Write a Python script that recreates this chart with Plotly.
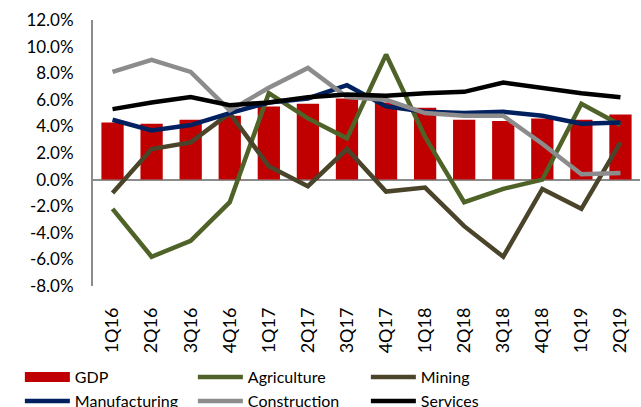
import plotly.graph_objects as go

quarters = ["1Q16", "2Q16", "3Q16", "4Q16", "1Q17", "2Q17", "3Q17", "4Q17",
            "1Q18", "2Q18", "3Q18", "4Q18", "1Q19", "2Q19"]
gdp = [4.3, 4.2, 4.5, 4.8, 5.5, 5.7, 6.1, 5.8, 5.4, 4.5, 4.4, 4.6, 4.5, 4.9]
agriculture = [-2.2, -5.8, -4.6, -1.7, 6.5, 4.6, 3.1, 9.4, 3.2, -1.7, -0.7, 0.0, 5.7, 4.1]
mining = [-1.0, 2.3, 2.8, 5.0, 1.0, -0.5, 2.3, -0.9, -0.6, -3.5, -5.8, -0.7, -2.2, 2.8]
manufacturing = [4.5, 3.7, 4.1, 5.0, 5.8, 6.1, 7.1, 5.5, 5.1, 5.0, 5.1, 4.8, 4.2, 4.3]
construction = [8.1, 9.0, 8.1, 5.2, 6.9, 8.4, 6.2, 6.0, 5.0, 4.8, 4.8, 2.7, 0.4, 0.5]
services = [5.3, 5.8, 6.2, 5.6, 5.8, 6.2, 6.4, 6.3, 6.5, 6.6, 7.3, 6.9, 6.5, 6.2]
y_ticks = [-8, -6, -4, -2, 0, 2, 4, 6, 8, 10, 12]

FONT = "Lato"
LW = 4.5

fig = go.Figure()
fig.add_trace(go.Bar(x=quarters, y=gdp, name="GDP", marker=dict(color="#C00000", line=dict(width=0)),
                     showlegend=False))
# legend proxy for the GDP bar (wide swatch)
fig.add_trace(go.Scatter(x=[None], y=[None], mode="lines", name="GDP",
                         line=dict(color="#C00000", width=12)))
line_series = [
    ("Agriculture", agriculture, "#4F6228"),
    ("Mining", mining, "#4A452A"),
    ("Manufacturing", manufacturing, "#002060"),
    ("Construction", construction, "#8C8C8C"),
    ("Services", services, "#000000"),
]
for name, vals, col in line_series:
    fig.add_trace(go.Scatter(x=quarters, y=vals, name=name, mode="lines",
                             line=dict(color=col, width=LW)))

fig.update_layout(
    width=641, height=407,
    margin=dict(l=93, r=1, t=20, b=121),
    paper_bgcolor="white", plot_bgcolor="white",
    font=dict(family=FONT, size=17, color="#000000"),
    bargap=0.43,
    showlegend=True,
    legend=dict(orientation="h", xref="container", yref="container",
                x=0.031, y=0.115, xanchor="left", yanchor="top",
                font=dict(family=FONT, size=16),
                itemwidth=45, entrywidth=113, entrywidthmode="pixels",
                tracegroupgap=0, bgcolor="rgba(0,0,0,0)"),
)
fig.update_yaxes(range=[-8, 12], tickvals=y_ticks,
                 ticktext=[f"{v:.1f}%" for v in y_ticks],
                 showgrid=False, zeroline=True, zerolinecolor="#8C8C8C", zerolinewidth=2,
                 showline=True, linecolor="#8C8C8C", linewidth=2,
                 ticks="", ticklabelstandoff=14)
fig.update_xaxes(showgrid=False, zeroline=False, showline=False,
                 tickangle=-90, ticks="", ticklabelstandoff=17,
                 tickfont=dict(size=18))

fig.write_html("out.html")
